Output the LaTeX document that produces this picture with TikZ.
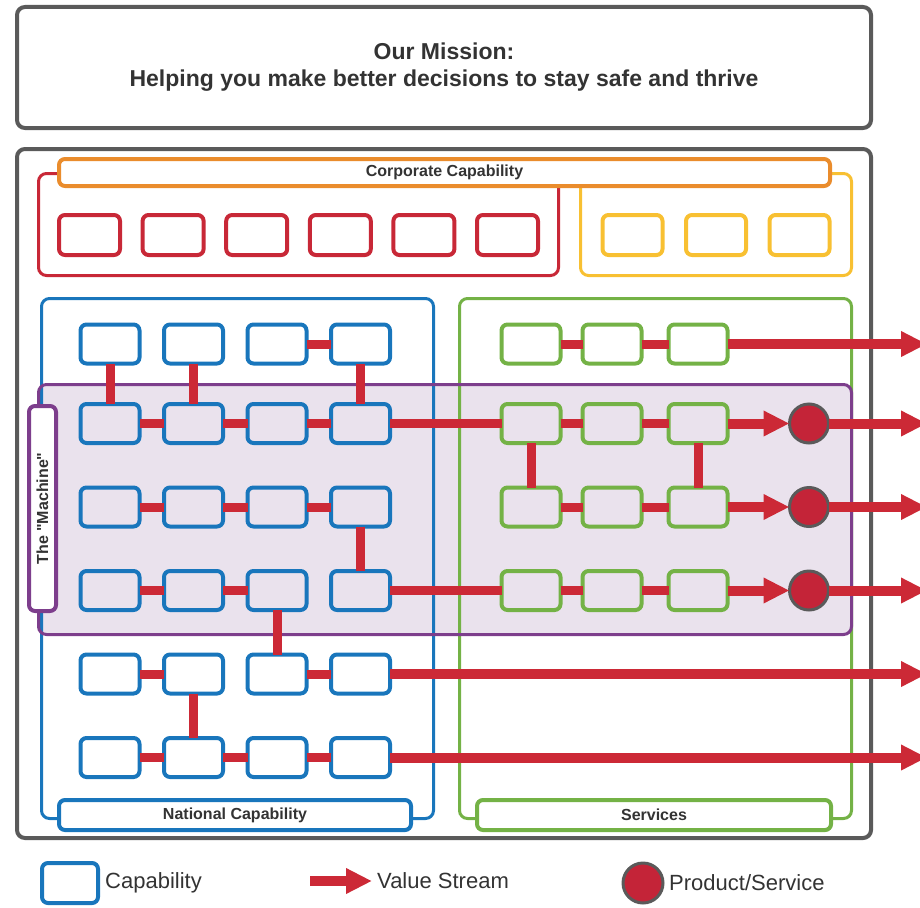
\documentclass[tikz,border=0pt]{standalone}
\usepackage{fontspec}
\setmainfont{Liberation Sans}
\usepackage{xcolor}
\usepackage{tikz}
\usetikzlibrary{arrows.meta, positioning}

\definecolor{edgegrey}{RGB}{90,90,90}
\definecolor{textgrey}{RGB}{51,51,51}
\definecolor{capblue}{RGB}{25,118,188}
\definecolor{srvgreen}{RGB}{116,178,70}
\definecolor{corpred}{RGB}{200,40,55}
\definecolor{corporange}{RGB}{234,140,44}
\definecolor{corpyellow}{RGB}{248,192,50}
\definecolor{machpurple}{RGB}{125,62,140}
\definecolor{machfill}{RGB}{234,226,237}
\definecolor{linkred}{RGB}{204,41,54}
\definecolor{prodred}{RGB}{196,36,56}

\begin{document}
\begin{tikzpicture}[
    x=1pt, y=-1pt,
    frame/.style={draw=edgegrey, line width=4pt, rounded corners=8pt},
    group/.style={line width=3pt, rounded corners=8pt},
    box/.style={rectangle, draw, line width=4pt, rounded corners=6pt, minimum width=59pt, minimum height=39pt, inner sep=0pt, outer sep=0pt},
    nat/.style={box, draw=capblue},
    srv/.style={box, draw=srvgreen},
    corp/.style={box, draw=corpred, minimum width=61pt, minimum height=40pt},
    supp/.style={box, draw=corpyellow, minimum width=60pt, minimum height=40pt},
    prod/.style={circle, draw=edgegrey, fill=prodred, line width=3pt, minimum size=39pt, inner sep=0pt, outer sep=0pt},
    banner/.style={rectangle, fill=white, line width=4pt, rounded corners=6pt, inner sep=0pt, outer sep=0pt, text=textgrey, font=\bfseries\fontsize{16}{18}\selectfont},
    legendtext/.style={inner sep=0pt, text=textgrey, font=\fontsize{22}{26}\selectfont},
    link/.style={draw=linkred, line width=9pt},
    flow/.style={draw=linkred, line width=10pt, -{Triangle[length=26pt,width=24pt]}}
]
    \useasboundingbox (0,0) rectangle (920,907);
    \clip (0,0) rectangle (920,907);

    % Frames
    \draw[frame] (17,7) rectangle (871,128);
    \node[align=center, text=textgrey, font=\bfseries\fontsize{23}{27}\selectfont] (mission) at (444,67)
        {Our Mission:\\Helping you make better decisions to stay safe and thrive};
    \draw[frame] (17,149) rectangle (871,838);

    \fill[machfill, rounded corners=8pt] (38.5,384.5) rectangle (851.5,634.5);
    \draw[group, draw=corpred] (38.5,173.5) rectangle (558.5,275.5);
    \draw[group, draw=corpyellow] (580.5,173.5) rectangle (851.5,275.5);
    \draw[group, draw=capblue] (41.5,298.5) rectangle (433.5,818.5);
    \draw[group, draw=srvgreen] (459.5,298.5) rectangle (851.5,818.5);
    \draw[group, draw=machpurple] (38.5,384.5) rectangle (851.5,634.5);

    \node[banner, draw=corporange, minimum width=771pt, minimum height=27pt] (corptitle) at (444.5,172.5) {Corporate Capability};
    \node[banner, draw=capblue, minimum width=352pt, minimum height=30pt] (nattitle) at (235,815) {National Capability};
    \node[banner, draw=srvgreen, minimum width=354pt, minimum height=30pt] (srvtitle) at (654,815) {Services};
    \node[banner, draw=machpurple, rotate=90, minimum width=205pt, minimum height=27pt] (machtitle) at (42.5,508.5) {The \textquotedbl Machine\textquotedbl};

    % Corporate capabilities
    \node[corp] (c1) at (89.5,235) {};
    \node[corp, right=22.6pt of c1] (c2) {};
    \node[corp, right=22.6pt of c2] (c3) {};
    \node[corp, right=22.6pt of c3] (c4) {};
    \node[corp, right=22.6pt of c4] (c5) {};
    \node[corp, right=22.6pt of c5] (c6) {};
    \node[supp] (s1) at (632.5,235) {};
    \node[supp, right=23.5pt of s1] (s2) {};
    \node[supp, right=23.5pt of s2] (s3) {};

    % National capabilities
    \node[nat] (n11) at (110,344) {};
    \node[nat, right=24.5pt of n11] (n12) {};
    \node[nat, right=24.5pt of n12] (n13) {};
    \node[nat, right=24.5pt of n13] (n14) {};
    \node[nat, below=40.5pt of n11] (n21) {};
    \node[nat, right=24.5pt of n21] (n22) {};
    \node[nat, right=24.5pt of n22] (n23) {};
    \node[nat, right=24.5pt of n23] (n24) {};
    \node[nat, below=44.5pt of n21] (n31) {};
    \node[nat, right=24.5pt of n31] (n32) {};
    \node[nat, right=24.5pt of n32] (n33) {};
    \node[nat, right=24.5pt of n33] (n34) {};
    \node[nat, below=44.5pt of n31] (n41) {};
    \node[nat, right=24.5pt of n41] (n42) {};
    \node[nat, right=24.5pt of n42] (n43) {};
    \node[nat, right=24.5pt of n43] (n44) {};
    \node[nat, below=44.5pt of n41] (n51) {};
    \node[nat, right=24.5pt of n51] (n52) {};
    \node[nat, right=24.5pt of n52] (n53) {};
    \node[nat, right=24.5pt of n53] (n54) {};
    \node[nat, below=44.5pt of n51] (n61) {};
    \node[nat, right=24.5pt of n61] (n62) {};
    \node[nat, right=24.5pt of n62] (n63) {};
    \node[nat, right=24.5pt of n63] (n64) {};

    % Services
    \node[srv] (g11) at (531,344) {};
    \node[srv, right=22pt of g11] (g12) {};
    \node[srv, right=27pt of g12] (g13) {};
    \node[srv, below=40.5pt of g11] (g21) {};
    \node[srv, right=22pt of g21] (g22) {};
    \node[srv, right=27pt of g22] (g23) {};
    \node[srv, below=44.5pt of g21] (g31) {};
    \node[srv, right=22pt of g31] (g32) {};
    \node[srv, right=27pt of g32] (g33) {};
    \node[srv, below=44.5pt of g31] (g41) {};
    \node[srv, right=22pt of g41] (g42) {};
    \node[srv, right=27pt of g42] (g43) {};

    \node[prod, right=62pt of g23] (p1) {};
    \node[prod, right=62pt of g33] (p2) {};
    \node[prod, right=62pt of g43] (p3) {};

    \coordinate (edge) at (927,0);
    \coordinate (e1) at (g13 -| edge);
    \coordinate (e2) at (p1 -| edge);
    \coordinate (e3) at (p2 -| edge);
    \coordinate (e4) at (p3 -| edge);
    \coordinate (e5) at (n54 -| edge);
    \coordinate (e6) at (n64 -| edge);

    % Paths
    \path[link] (n13) -- (n14);
    \path[link] (n11) -- (n21);
    \path[link] (n12) -- (n22);
    \path[link] (n14) -- (n24);
    \path[link] (n21) -- (n22);
    \path[link] (n22) -- (n23);
    \path[link] (n23) -- (n24);
    \path[link] (n24) -- (g21);
    \path[link] (n31) -- (n32);
    \path[link] (n32) -- (n33);
    \path[link] (n33) -- (n34);
    \path[link] (n34) -- (n44);
    \path[link] (n41) -- (n42);
    \path[link] (n42) -- (n43);
    \path[link] (n43) -- (n53);
    \path[link] (n44) -- (g41);
    \path[link] (n51) -- (n52);
    \path[link] (n53) -- (n54);
    \path[link] (n52) -- (n62);
    \path[link] (n61) -- (n62);
    \path[link] (n62) -- (n63);
    \path[link] (n63) -- (n64);
    \path[flow] (n54) -- (e5);
    \path[flow] (n64) -- (e6);

    \path[link] (g11) -- (g12);
    \path[link] (g12) -- (g13);
    \path[flow] (g13) -- (e1);
    \path[link] (g21) -- (g22);
    \path[link] (g22) -- (g23);
    \path[link] (g21) -- (g31);
    \path[link] (g23) -- (g33);
    \path[link] (g31) -- (g32);
    \path[link] (g32) -- (g33);
    \path[link] (g41) -- (g42);
    \path[link] (g42) -- (g43);
    \path[flow] (g23) -- (p1);
    \path[flow] (g33) -- (p2);
    \path[flow] (g43) -- (p3);
    \path[flow] (p1) -- (e2);
    \path[flow] (p2) -- (e3);
    \path[flow] (p3) -- (e4);

    % Legend
    \node[nat, minimum width=56pt, minimum height=40pt] (legcap) at (70,883) {};
    \node[legendtext, right=7pt of legcap] (legcaptext) {Capability};
    \coordinate (legfrom) at (310,881);
    \coordinate (legto) at (372,881);
    \path[flow] (legfrom) -- (legto);
    \node[legendtext, anchor=west] (legflowtext) at (377,881) {Value Stream};
    \node[prod, minimum size=40pt] (legprod) at (643,883) {};
    \node[legendtext, right=6pt of legprod] (legprodtext) {Product/Service};
\end{tikzpicture}
\end{document}
